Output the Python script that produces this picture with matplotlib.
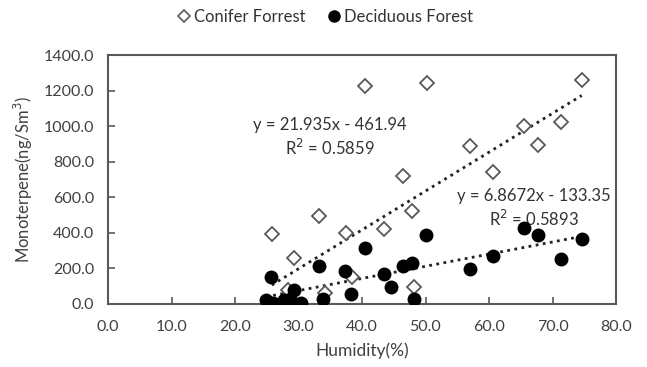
import numpy as np
import matplotlib.pyplot as plt
from matplotlib.lines import Line2D

plt.rcParams['font.family'] = ['Lato', 'DejaVu Sans']

# Conifer forest (open diamonds)
conifer_hum = [25.8, 28.3, 29.3, 33.3, 34.1, 37.5, 38.4, 40.5, 43.5, 46.5,
               47.8, 48.2, 50.2, 57.0, 60.7, 65.5, 67.7, 71.4, 74.6]
conifer_mt = [395, 76, 258, 495, 60, 399, 150, 1230, 420, 720,
              523, 92, 1244, 891, 741, 1000, 897, 1026, 1259]

# Deciduous forest (filled dots)
decid_hum = [24.9, 25.6, 26.0, 27.7, 28.6, 29.3, 30.4, 33.2, 33.9, 37.4, 38.3, 40.5,
             43.5, 44.5, 46.4, 47.8, 48.2, 50.1, 57.0, 60.6, 65.5, 67.7, 71.4, 74.7]
decid_mt = [22, 150, 2, 18, 27, 74, 3, 211, 28, 183, 55, 314,
            164, 95, 212, 231, 25, 386, 194, 267, 429, 386, 251, 362]

# Excel trendline coefficients
conifer_fit = (21.935, -461.94)
decid_fit = (6.8672, -133.35)

fig = plt.figure(figsize=(6.47, 3.67), dpi=100)
ax = fig.add_axes([108 / 647, 1 - 303.5 / 367, (616 - 108) / 647, (303.5 - 55.5) / 367])

edge = '#595959'
txt = '#404040'
ax.plot(conifer_hum, conifer_mt, linestyle='none', marker='D', ms=7,
        mfc='white', mec=edge, mew=1.3, zorder=3)
ax.plot(decid_hum, decid_mt, linestyle='none', marker='o', ms=9,
        mfc='black', mec='black', zorder=4)

for hum, (a, b) in [(conifer_hum, conifer_fit), (decid_hum, decid_fit)]:
    xs = np.array([min(hum), max(hum)])
    ax.plot(xs, a * xs + b, color='#222222', lw=2, linestyle=(0, (1, 1.6)), zorder=2)

ax.text(35, 1010, 'y = 21.935x - 461.94', ha='center', va='center', fontsize=12, color='#333333')
ax.text(35, 880, 'R$^2$ = 0.5859', ha='center', va='center', fontsize=12, color='#333333')
ax.text(67, 605, 'y = 6.8672x - 133.35', ha='center', va='center', fontsize=12, color='#333333')
ax.text(67, 475, 'R$^2$ = 0.5893', ha='center', va='center', fontsize=12, color='#333333')

ax.set_xlim(0, 80)
ax.set_ylim(0, 1400)
ax.set_xticks(np.arange(0, 81, 10))
ax.set_yticks(np.arange(0, 1401, 200))
ax.xaxis.set_major_formatter(lambda v, p: f'{v:.1f}')
ax.yaxis.set_major_formatter(lambda v, p: f'{v:.1f}')
ax.tick_params(direction='in', length=5, width=1.2, color=edge, labelsize=11.5,
               labelcolor=txt)
ax.tick_params(axis='x', pad=12)
ax.tick_params(axis='y', pad=10)
for s in ax.spines.values():
    s.set_color(edge)
    s.set_linewidth(1.5)

ax.set_xlabel('Humidity(%)', fontsize=12.5, color=txt, labelpad=6)
ax.set_ylabel('Monoterpene(ng/Sm$^3$)', fontsize=12, color=txt, labelpad=6)

handles = [Line2D([], [], linestyle='none', marker='D', ms=6, mfc='white', mec=edge, mew=1.2),
           Line2D([], [], linestyle='none', marker='o', ms=8, mfc='black', mec='black')]
fig.legend(handles, ['Conifer Forrest', 'Deciduous Forest'], loc='center',
           bbox_to_anchor=(324 / 647, 1 - 17 / 367), ncol=2, frameon=False,
           fontsize=12, handletextpad=0.1, columnspacing=1.2, handlelength=1.0,
           labelcolor='#333333')

fig.savefig('out.png', dpi=100)
